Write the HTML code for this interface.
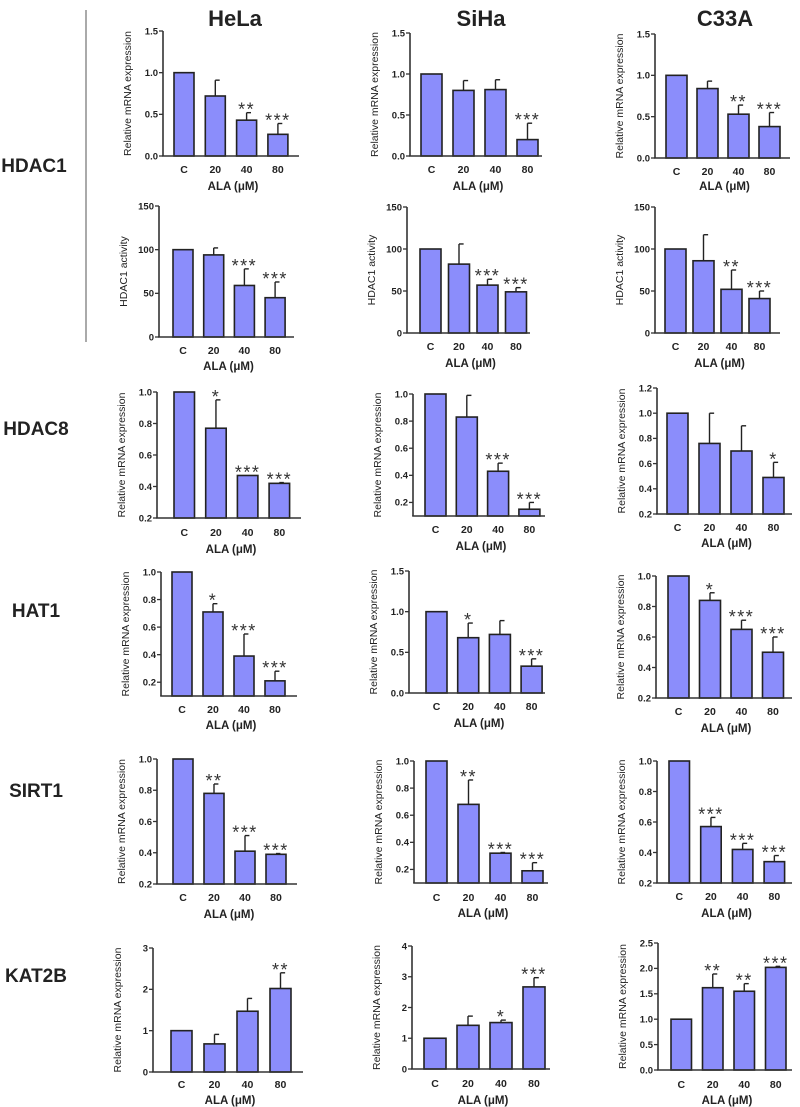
<!DOCTYPE html>
<html><head><meta charset="utf-8">
<style>
body{margin:0;background:#fff;}
svg{display:block;font-family:"Liberation Sans",Arial,sans-serif;}
.t{font-weight:bold;fill:#222;}
</style></head>
<body>
<svg id="fig" width="800" height="1107" viewBox="0 0 800 1107" xmlns="http://www.w3.org/2000/svg">
<text class="t" x="235" y="26" font-size="22" text-anchor="middle">HeLa</text>
<text class="t" x="481" y="26" font-size="22" text-anchor="middle">SiHa</text>
<text class="t" x="725" y="26" font-size="22" text-anchor="middle">C33A</text>
<text class="t" x="34" y="172" font-size="19" text-anchor="middle">HDAC1</text>
<text class="t" x="36" y="435" font-size="19" text-anchor="middle">HDAC8</text>
<text class="t" x="36" y="617" font-size="19" text-anchor="middle">HAT1</text>
<text class="t" x="36" y="797" font-size="19" text-anchor="middle">SIRT1</text>
<text class="t" x="36" y="982" font-size="19" text-anchor="middle">KAT2B</text>
<line x1="86" y1="10" x2="86" y2="342" stroke="#555" stroke-width="1"/>
<g id="panels"></g>
</svg>
<script>
const categories = ["C","20","40","80"];
// values, errors, significance
const helaHdac1Mrna=[1,0.72,0.43,0.26], helaHdac1MrnaErr=[0,0.19,0.09,0.13], helaHdac1MrnaSig=["","","**","***"];
const sihaHdac1Mrna=[1,0.80,0.81,0.20], sihaHdac1MrnaErr=[0,0.12,0.12,0.20], sihaHdac1MrnaSig=["","","","***"];
const c33aHdac1Mrna=[1,0.84,0.53,0.38], c33aHdac1MrnaErr=[0,0.09,0.11,0.17], c33aHdac1MrnaSig=["","","**","***"];
const helaHdac1Act=[100,94,59,45], helaHdac1ActErr=[0,8,19,18], helaHdac1ActSig=["","","***","***"];
const sihaHdac1Act=[100,82,57,49], sihaHdac1ActErr=[0,24,7,5], sihaHdac1ActSig=["","","***","***"];
const c33aHdac1Act=[100,86,52,41], c33aHdac1ActErr=[0,31,23,9], c33aHdac1ActSig=["","","**","***"];
const helaHdac8=[1,0.77,0.47,0.42], helaHdac8Err=[0,0.18,0,0.005], helaHdac8Sig=["","*","***","***"];
const sihaHdac8=[1,0.83,0.43,0.15], sihaHdac8Err=[0,0.16,0.06,0.05], sihaHdac8Sig=["","","***","***"];
const c33aHdac8=[1,0.76,0.70,0.49], c33aHdac8Err=[0,0.24,0.20,0.12], c33aHdac8Sig=["","","","*"];
const helaHat1=[1,0.71,0.39,0.21], helaHat1Err=[0,0.06,0.16,0.07], helaHat1Sig=["","*","***","***"];
const sihaHat1=[1,0.68,0.72,0.33], sihaHat1Err=[0,0.18,0.17,0.09], sihaHat1Sig=["","*","","***"];
const c33aHat1=[1,0.84,0.65,0.50], c33aHat1Err=[0,0.05,0.06,0.10], c33aHat1Sig=["","*","***","***"];
const helaSirt1=[1,0.78,0.41,0.39], helaSirt1Err=[0,0.06,0.10,0.005], helaSirt1Sig=["","**","***","***"];
const sihaSirt1=[1,0.68,0.32,0.19], sihaSirt1Err=[0,0.18,0.005,0.06], sihaSirt1Sig=["","**","***","***"];
const c33aSirt1=[1,0.57,0.42,0.34], c33aSirt1Err=[0,0.06,0.04,0.04], c33aSirt1Sig=["","***","***","***"];
const helaKat2b=[1,0.68,1.47,2.02], helaKat2bErr=[0,0.23,0.31,0.38], helaKat2bSig=["","","","**"];
const sihaKat2b=[1,1.42,1.51,2.67], sihaKat2bErr=[0,0.30,0.08,0.30], sihaKat2bSig=["","","*","***"];
const c33aKat2b=[1,1.62,1.55,2.02], c33aKat2bErr=[0,0.27,0.15,0.02], c33aKat2bSig=["","**","**","***"];
// tick labels
const ticks15=["0.0","0.5","1.0","1.5"], ticks150=["0","50","100","150"];
const ticks02to1=["0.2","0.4","0.6","0.8","1.0"], ticks02to12=["0.2","0.4","0.6","0.8","1.0","1.2"];
const ticks3=["0","1","2","3"], ticks4=["0","1","2","3","4"], ticks25=["0.0","0.5","1.0","1.5","2.0","2.5"];

const M="Relative mRNA expression", A="HDAC1 activity";
const panels=[
 {n:"hela-hdac1-mrna",v:helaHdac1Mrna,e:helaHdac1MrnaErr,s:helaHdac1MrnaSig,tk:ticks15,yl:M,ax:163,bx:174,p:31.3,bw:20,end:299,yT:31,vT:1.5,yB:156,vB:0,cat:169,ala:190},
 {n:"hela-hdac1-activity",v:helaHdac1Act,e:helaHdac1ActErr,s:helaHdac1ActSig,tk:ticks150,yl:A,ax:159,bx:173,p:30.7,bw:20,end:294,yT:206,vT:150,yB:337,vB:0,cat:350,ala:370},
 {n:"hela-hdac8",v:helaHdac8,e:helaHdac8Err,s:helaHdac8Sig,tk:ticks02to1,yl:M,ax:157,bx:174,p:31.7,bw:20.5,end:301,yT:392,vT:1,yB:518,vB:0.2,cat:532,ala:553},
 {n:"hela-hat1",v:helaHat1,e:helaHat1Err,s:helaHat1Sig,tk:ticks02to1,yl:M,ax:161,bx:172,p:31,bw:20,end:297,yT:572,vT:1,yB:696,vB:0.1,cat:709,ala:729},
 {n:"hela-sirt1",v:helaSirt1,e:helaSirt1Err,s:helaSirt1Sig,tk:ticks02to1,yl:M,ax:157,bx:173,p:31,bw:20,end:297,yT:759,vT:1,yB:884,vB:0.2,cat:897,ala:918},
 {n:"hela-kat2b",v:helaKat2b,e:helaKat2bErr,s:helaKat2bSig,tk:ticks3,yl:M,ax:153,bx:171,p:33,bw:21,end:303,yT:948,vT:3,yB:1072,vB:0,cat:1084,ala:1104},
 {n:"siha-hdac1-mrna",v:sihaHdac1Mrna,e:sihaHdac1MrnaErr,s:sihaHdac1MrnaSig,tk:ticks15,yl:M,ax:410,bx:421,p:32,bw:21,end:542,yT:33,vT:1.5,yB:156,vB:0,cat:169,ala:190},
 {n:"siha-hdac1-activity",v:sihaHdac1Act,e:sihaHdac1ActErr,s:sihaHdac1ActSig,tk:ticks150,yl:A,ax:407,bx:420,p:28.5,bw:21,end:530,yT:207,vT:150,yB:333,vB:0,cat:346,ala:367},
 {n:"siha-hdac8",v:sihaHdac8,e:sihaHdac8Err,s:sihaHdac8Sig,tk:ticks02to1,yl:M,ax:413,bx:425,p:31.3,bw:21,end:545,yT:394,vT:1,yB:516,vB:0.1,cat:529,ala:550},
 {n:"siha-hat1",v:sihaHat1,e:sihaHat1Err,s:sihaHat1Sig,tk:ticks15,yl:M,ax:409,bx:426,p:31.7,bw:21,end:545,yT:571,vT:1.5,yB:693,vB:0,cat:706,ala:727},
 {n:"siha-sirt1",v:sihaSirt1,e:sihaSirt1Err,s:sihaSirt1Sig,tk:ticks02to1,yl:M,ax:414,bx:426,p:32,bw:21,end:548,yT:761,vT:1,yB:883,vB:0.1,cat:897,ala:917},
 {n:"siha-kat2b",v:sihaKat2b,e:sihaKat2bErr,s:sihaKat2bSig,tk:ticks4,yl:M,ax:412,bx:424,p:33,bw:22,end:550,yT:946,vT:4,yB:1069,vB:0,cat:1083,ala:1104},
 {n:"c33a-hdac1-mrna",v:c33aHdac1Mrna,e:c33aHdac1MrnaErr,s:c33aHdac1MrnaSig,tk:ticks15,yl:M,ax:655,bx:666,p:31,bw:21,end:790,yT:34,vT:1.5,yB:158,vB:0,cat:171,ala:190},
 {n:"c33a-hdac1-activity",v:c33aHdac1Act,e:c33aHdac1ActErr,s:c33aHdac1ActSig,tk:ticks150,yl:A,ax:655,bx:665,p:28,bw:21,end:780,yT:207,vT:150,yB:333,vB:0,cat:346,ala:367},
 {n:"c33a-hdac8",v:c33aHdac8,e:c33aHdac8Err,s:c33aHdac8Sig,tk:ticks02to12,yl:M,ax:657,bx:667,p:32,bw:21,end:792,yT:388,vT:1.2,yB:514,vB:0.2,cat:527,ala:547},
 {n:"c33a-hat1",v:c33aHat1,e:c33aHat1Err,s:c33aHat1Sig,tk:ticks02to1,yl:M,ax:656,bx:668,p:31.5,bw:21,end:792,yT:576,vT:1,yB:698,vB:0.2,cat:711,ala:732},
 {n:"c33a-sirt1",v:c33aSirt1,e:c33aSirt1Err,s:c33aSirt1Sig,tk:ticks02to1,yl:M,ax:657,bx:669,p:31.7,bw:20.5,end:792,yT:761,vT:1,yB:883,vB:0.2,cat:896,ala:917},
 {n:"c33a-kat2b",v:c33aKat2b,e:c33aKat2bErr,s:c33aKat2bSig,tk:ticks25,yl:M,ax:658,bx:671,p:31.5,bw:20.5,end:792,yT:943,vT:2.5,yB:1070,vB:0,cat:1084,ala:1104}
];
const NS="http://www.w3.org/2000/svg";
const root=document.getElementById("panels");
function mk(tag,attrs,parent){const el=document.createElementNS(NS,tag);for(const k in attrs)el.setAttribute(k,attrs[k]);parent.appendChild(el);return el;}
panels.forEach(P=>{
  const g=mk("g",{},root);
  
  
  const y=v=>P.yB-(v-P.vB)/(P.vT-P.vB)*(P.yB-P.yT);
  const x=i=>P.bx+i*P.p;
  P.v.forEach((val,i)=>{
    const top=y(val), cx=x(i)+P.bw/2;
    if(P.e[i]>0){
      const et=y(val+P.e[i]);
      const l=mk("line",{x1:cx,y1:top,x2:cx,y2:et,stroke:"#222","stroke-width":1.4},g);
      
      
      const c=mk("line",{x1:cx,y1:et,x2:cx+P.bw*0.22,y2:et,stroke:"#222","stroke-width":1.4},g);
      
      
    }
    const r=mk("rect",{x:x(i),y:top,width:P.bw,height:P.yB-top,fill:"#8b8dfb",stroke:"#222","stroke-width":1.6},g);
    
    
    if(P.s[i]){
      const st=mk("text",{x:cx,y:y(val+P.e[i])+3,"font-size":18,"text-anchor":"middle",fill:"#333","letter-spacing":"1.5"},g);
      st.textContent=P.s[i];
      
      
    }
    const ct=mk("text",{x:cx,y:P.cat+4,"font-size":10.5,"text-anchor":"middle",class:"t"},g);
    ct.textContent=categories[i];
    
    
  });
  const ya=mk("line",{x1:P.ax,y1:P.yT,x2:P.ax,y2:P.yB,stroke:"#333","stroke-width":1.6},g);
  
  
  const xa=mk("line",{x1:P.ax-0.8,y1:P.yB,x2:P.end,y2:P.yB,stroke:"#333","stroke-width":1.6},g);
  
  
  P.tk.forEach(t=>{
    const ty=y(parseFloat(t));
    const tl=mk("line",{x1:P.ax-4,y1:ty,x2:P.ax,y2:ty,stroke:"#333","stroke-width":1.3},g);
    
    
    const tt=mk("text",{x:P.ax-5,y:ty+3.3,"font-size":9.5,"text-anchor":"end",class:"t"},g);
    tt.textContent=t;
    
    
  });
  const my=(P.yT+P.yB)/2, tx=P.ax-32;
  const yt=mk("text",{x:tx,y:my,"font-size":10.5,"text-anchor":"middle",fill:"#222",transform:`rotate(-90 ${tx} ${my})`},g);
  yt.textContent=P.yl;
  
  
  const cx=(P.ax+P.end)/2+2;
  const xt=mk("text",{x:cx,y:P.ala,"font-size":11.5,"text-anchor":"middle",class:"t"},g);
  xt.textContent="ALA (\u03bcM)";
  
  
});
</script>
</body></html>
